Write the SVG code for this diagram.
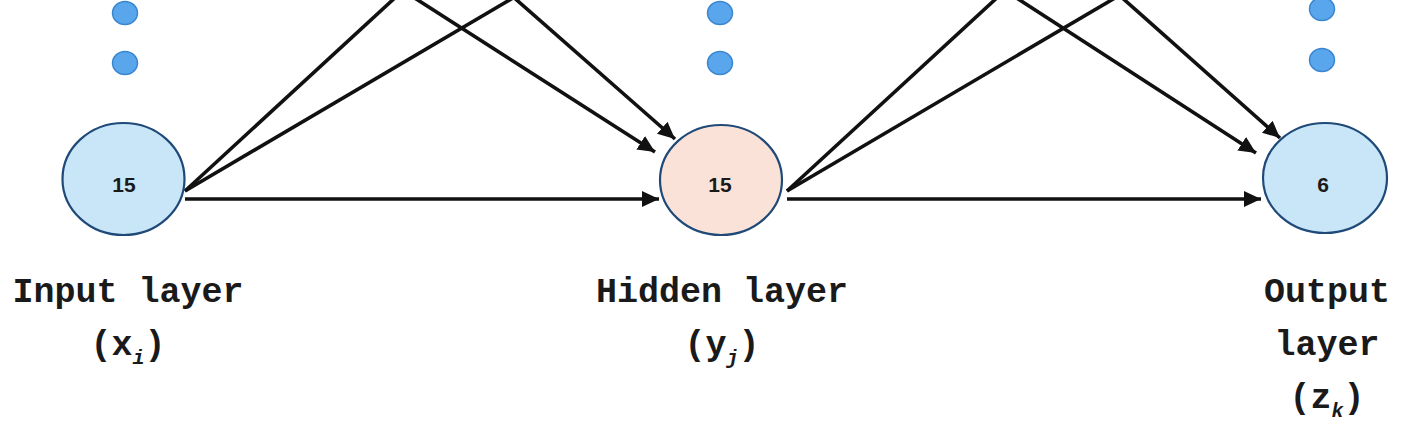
<svg xmlns="http://www.w3.org/2000/svg" width="1406" height="430" viewBox="0 0 1406 430">
<style>
.big{stroke:#1f4a78;stroke-width:2.2}
.blue{fill:#c9e6f8}
.peach{fill:#fbe2d8}
.dot{fill:#5aa6ec;stroke:#3a86cf;stroke-width:1.5}
.num{font-family:"Liberation Sans",Arial,sans-serif;font-weight:bold;font-size:21px;fill:#1a1a1a;text-anchor:middle}
.lbl{font-family:"Liberation Mono","Courier New",monospace;font-weight:bold;font-size:35px;fill:#1a1a1a;text-anchor:middle}
.sub{font-size:20px;font-style:italic}
.conn{stroke:#111;stroke-width:3.6;fill:none}
</style>
<defs>
<marker id="ah" markerUnits="userSpaceOnUse" markerWidth="18" markerHeight="16" refX="17" refY="8" orient="auto">
<path d="M0,0 L17,8 L0,16 z" fill="#111"/>
</marker>
</defs>
<rect width="1406" height="430" fill="#fff"/>
<g id="connectors">
<line class="conn" x1="185" y1="191" x2="398" y2="-5"/>
<line class="conn" x1="185" y1="191" x2="518" y2="-5"/>
<line class="conn" x1="410" y1="-5" x2="655" y2="152" marker-end="url(#ah)"/>
<line class="conn" x1="511" y1="-5" x2="675" y2="139" marker-end="url(#ah)"/>
<line class="conn" x1="185" y1="199" x2="659" y2="199" marker-end="url(#ah)"/>
<line class="conn" x1="787" y1="191" x2="1000" y2="-5"/>
<line class="conn" x1="787" y1="191" x2="1120" y2="-5"/>
<line class="conn" x1="1012" y1="-5" x2="1256" y2="153" marker-end="url(#ah)"/>
<line class="conn" x1="1119" y1="-5" x2="1280" y2="138" marker-end="url(#ah)"/>
<line class="conn" x1="787" y1="199" x2="1261" y2="199" marker-end="url(#ah)"/>
</g>
<g id="input-dots">
<ellipse class="dot" cx="125" cy="13" rx="12.5" ry="11.5"/>
<ellipse class="dot" cx="125" cy="63" rx="12.5" ry="11.5"/>
</g>
<g id="hidden-dots">
<ellipse class="dot" cx="720" cy="13" rx="12.5" ry="11.5"/>
<ellipse class="dot" cx="720" cy="63" rx="12.5" ry="11.5"/>
</g>
<g id="output-dots">
<ellipse class="dot" cx="1322" cy="9" rx="12.5" ry="11.5"/>
<ellipse class="dot" cx="1322" cy="60" rx="12.5" ry="11.5"/>
</g>
<g id="input-node">
<ellipse class="big blue" cx="123.5" cy="179" rx="61" ry="56"/>
<text class="num" x="124" y="192">15</text>
</g>
<g id="hidden-node">
<ellipse class="big peach" cx="721" cy="180" rx="61" ry="55"/>
<text class="num" x="720" y="192">15</text>
</g>
<g id="output-node">
<ellipse class="big blue" cx="1325" cy="178" rx="62" ry="55"/>
<text class="num" x="1323" y="192">6</text>
</g>
<g id="input-label">
<text class="lbl" x="128" y="302">Input layer</text>
<text class="lbl" x="128" y="355">(x<tspan class="sub" dy="9">i</tspan><tspan dy="-9">)</tspan></text>
</g>
<g id="hidden-label">
<text class="lbl" x="722" y="302">Hidden layer</text>
<text class="lbl" x="722" y="355">(y<tspan class="sub" dy="9">j</tspan><tspan dy="-9">)</tspan></text>
</g>
<g id="output-label">
<text class="lbl" x="1327" y="302">Output</text>
<text class="lbl" x="1327" y="355">layer</text>
<text class="lbl" x="1327" y="408">(z<tspan class="sub" dy="9">k</tspan><tspan dy="-9">)</tspan></text>
</g>
</svg>
